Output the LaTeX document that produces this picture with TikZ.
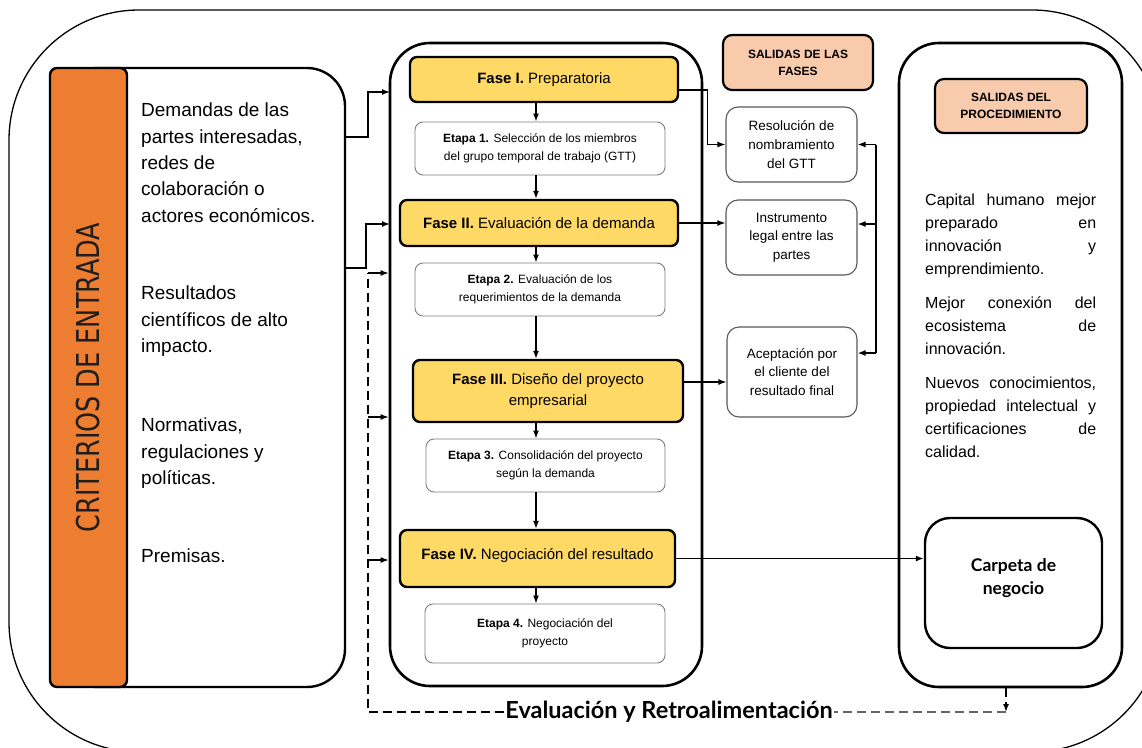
\documentclass[tikz,border=0pt]{standalone}
\usepackage{fontspec}
\setmainfont{Liberation Sans}
\newfontfamily\titlefont{Lato}
\newfontfamily\narrowfont[FakeStretch=0.9]{DejaVu Sans Condensed}
\usepackage{xcolor}
\definecolor{CritOrange} {RGB}{237, 125,  49}
\definecolor{FaseYellow} {RGB}{255, 217, 102}
\definecolor{SalidaRose} {RGB}{248, 203, 173}
\definecolor{EtapaGray}  {RGB}{125, 125, 125}
\definecolor{CritText}   {RGB}{ 30,  30,  30}
\usepackage{tikz}
\usetikzlibrary{
  arrows.meta,
  positioning
}

\begin{document}
\begin{tikzpicture}[
  x=1pt, y=-1pt,
  fase/.style={
    draw=black, fill=FaseYellow,
    line width=2.4pt, rounded corners=7pt,
    align=center, inner sep=2pt,
    font=\fontsize{15}{21}\selectfont
  },
  etapa/.style={
    draw=EtapaGray, fill=white,
    line width=0.9pt, rounded corners=8pt,
    align=center, inner sep=2pt,
    font=\fontsize{12}{18}\selectfont
  },
  salida/.style={
    draw=EtapaGray!70!black, fill=white,
    line width=1.1pt, rounded corners=12pt,
    align=center, inner sep=2pt,
    font=\fontsize{13.5}{18.7}\selectfont
  },
  header/.style={
    draw=black, fill=SalidaRose,
    line width=2.2pt, rounded corners=9pt,
    align=center, inner sep=2pt,
    font=\fontsize{12}{17}\selectfont\bfseries
  },
  column/.style={
    draw=black, line width=2.6pt,
    rounded corners=40pt
  },
  entrada/.style={
    anchor=north west, align=left, inner sep=0pt,
    font=\fontsize{19}{26.3}\selectfont
  },
  arrow/.style={
    -{Latex[length=8pt, width=6pt]},
    line width=1.4pt},
  dashline/.style={
    line width=1.4pt,
    dash pattern=on 9pt off 5pt}
]
\useasboundingbox (0,0) rectangle (1142,747);
\clip (0,0) rectangle (1142,747);

\draw[line width=1.3pt, rounded corners=130pt]
  (9,10) rectangle (1162,752);

% criterios de entrada
\node[draw=black, fill=white, line width=2.4pt,
  rounded corners=38pt,
  minimum width=285pt, minimum height=619pt] (inp)
  at (202.5,377.5) {};
\node[draw=black, fill=CritOrange, line width=2.4pt,
  rounded corners=7pt,
  minimum width=77pt, minimum height=619pt] (crit)
  at (88.5,377.5) {};
\node[rotate=90, text=CritText,
  font=\narrowfont\fontsize{31.5}{35}\selectfont] (critlbl)
  at (crit) {CRITERIOS DE ENTRADA};

\node[entrada] (dem)  at (141,103)
  {Demandas de las\\partes interesadas,\\redes de\\colaboración o\\actores económicos.};
\node[entrada] (cien) at (141,286)
  {Resultados\\científicos de alto\\impacto.};
\node[entrada] (norm) at (141,418)
  {Normativas,\\regulaciones y\\políticas.};
\node[entrada] (prem) at (141,548.4)
  {Premisas.};

% fases
\node[column, minimum width=312pt, minimum height=643pt] (fases)
  at (546,364.5) {};

\node[fase, minimum width=268pt, minimum height=45pt] (f1)
  at (544,79.5) {\textbf{Fase I.} Preparatoria};
\node[etapa, minimum width=250pt, minimum height=53pt] (e1)
  at (540,148.5)
  {\textbf{Etapa 1.} Selección de los miembros\\del grupo temporal de trabajo (GTT)};
\node[fase, minimum width=278pt, minimum height=46pt] (f2)
  at (539,223) {\textbf{Fase II.} Evaluación de la demanda};
\node[etapa, minimum width=250pt, minimum height=53pt] (e2)
  at (540,289.5)
  {\textbf{Etapa 2.} Evaluación de los\\requerimientos de la demanda};
\node[fase, minimum width=270pt, minimum height=62pt] (f3)
  at (548,391) {\textbf{Fase III.} Diseño del proyecto\\empresarial};
\node[etapa, minimum width=239pt, minimum height=53pt] (e3)
  at (545.5,465.5)
  {\textbf{Etapa 3.} Consolidación del proyecto\\según la demanda};
\node[fase, minimum width=275pt, minimum height=57pt,
  text depth=10pt] (f4)
  at (537.5,558.5) {\textbf{Fase IV.} Negociación del resultado};
\node[etapa, minimum width=240pt, minimum height=59pt] (e4)
  at (545,633.5)
  {\textbf{Etapa 4.} Negociación del\\proyecto};

% salidas de las fases
\node[header, minimum width=150pt, minimum height=55pt] (salfases)
  at (798,62.5) {SALIDAS DE LAS\\FASES};
\node[salida, minimum width=131pt, minimum height=75pt] (res)
  at (791.5,144.5) {Resolución de\\nombramiento\\del GTT};
\node[salida, minimum width=131pt, minimum height=75pt] (ins)
  at (791.5,237.5) {Instrumento\\legal entre las\\partes};
\node[salida, minimum width=130pt, minimum height=90pt] (acep)
  at (792,372) {Aceptación por\\el cliente del\\resultado final};

% salidas del procedimiento
\node[column, minimum width=223pt, minimum height=644pt] (proc)
  at (1010.5,365) {};
\node[header, minimum width=152pt, minimum height=54pt] (salproc)
  at (1011,106) {SALIDAS DEL\\PROCEDIMIENTO};
\node[anchor=north west, text width=171pt, align=justify,
  inner sep=0pt, font=\fontsize{16}{23}\selectfont] (logros)
  at (925,193.4)
  {Capital humano mejor\linebreak preparado en\linebreak
   innovación y\linebreak emprendimiento.\par\vspace{11pt}
   Mejor conexión del\linebreak ecosistema de\linebreak
   innovación.\par\vspace{11pt}
   Nuevos conocimientos,\linebreak propiedad intelectual y\linebreak
   certificaciones de\linebreak calidad.};
\node[draw=black, line width=2.4pt, rounded corners=25pt,
  minimum width=177pt, minimum height=130pt, align=center,
  text depth=14pt,
  font=\titlefont\bfseries\fontsize{17.5}{23}\selectfont] (carpeta)
  at (1013.5,583) {Carpeta de\\negocio};

\node[inner sep=1pt,
  font=\titlefont\bfseries\fontsize{23.5}{26}\selectfont] (retro)
  at (669,712) {Evaluación y Retroalimentación};

% flechas de entrada
\coordinate (in1) at (345,137);
\coordinate (in2) at (345,268);
\coordinate (t1)  at (390,92);
\coordinate (t2)  at (390,224);
\draw[arrow] (in1) -- ++(23,0) |- (t1);
\draw[arrow] (in2) -- ++(21,0) |- (t2);

% secuencia de fases
\coordinate (axis) at (536,0);
\draw[arrow] (f1.south -| axis) -- (e1.north -| axis);
\draw[arrow] (e1.south -| axis) -- (f2.north -| axis);
\draw[arrow] (f2.south -| axis) -- (e2.north -| axis);
\draw[arrow] (e2.south -| axis) -- (f3.north -| axis);
\draw[arrow] (f3.south -| axis) -- (e3.north -| axis);
\draw[arrow] (e3.south -| axis) -- (f4.north -| axis);
\draw[arrow] (f4.south -| axis) -- (e4.north -| axis);

% salidas
\coordinate (f1out) at ([yshift=-10.5pt]f1.east);
\coordinate (f3out) at ([yshift=9pt]f3.east);
\draw[arrow] (f1out) -- ++(28,0) |- (res.west);
\draw[arrow] (f2.east) -- (f2.east -| ins.west);
\draw[arrow] (f3out) -- (f3out -| acep.west);
\draw[arrow] (f4.east) -- (f4.east -| carpeta.west);

\coordinate (rtA) at (876,144.5);
\coordinate (rtB) at (876,224);
\coordinate (rtC) at (876,353);
\draw[line width=1.4pt] (rtA) -- (rtC);
\draw[arrow] (rtA) -- (res.east);
\draw[arrow] (rtB) -- (rtB -| ins.east);
\draw[arrow] (rtC) -- (rtC -| acep.east);

% retroalimentacion
\coordinate (fbR)   at (1006,712);
\coordinate (fbL)   at (368,712);
\coordinate (fbTop) at (368,273);
\coordinate (fbMid) at (368,417);
\coordinate (fbLow) at (368,560);
\draw[arrow, dashline] (proc.south -| fbR) -- (fbR);
\draw[dashline, black!60] (fbR) -- (retro.east);
\draw[dashline] (retro.west) -- (fbL) -- (fbTop);
\draw[arrow] (fbTop) -- (fbTop -| fases.west);
\draw[arrow] (fbMid) -- (fbMid -| fases.west);
\draw[arrow] (fbLow) -- (fbLow -| fases.west);

\end{tikzpicture}
\end{document}
